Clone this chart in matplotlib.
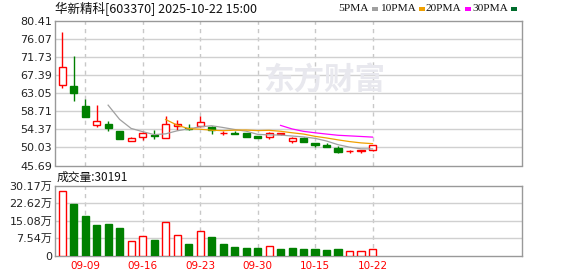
import matplotlib
matplotlib.use("Agg")
import matplotlib.pyplot as plt
from matplotlib.patches import Rectangle
import numpy as np
import pandas as pd

plt.rcParams['font.family'] = ['DejaVu Sans', 'Noto Sans CJK SC']

# ---------------- data ----------------
dates = ["09-05", "09-08", "09-09", "09-10", "09-11", "09-12", "09-15", "09-16",
         "09-17", "09-18", "09-19", "09-22", "09-23", "09-24", "09-25", "09-26",
         "09-29", "09-30", "10-09", "10-10", "10-13", "10-14", "10-15", "10-16",
         "10-17", "10-20", "10-21", "10-22"]
opens = [65.15, 64.91, 59.90, 55.50, 55.74, 54.06, 51.65, 52.61, 53.00, 52.37,
         55.26, 54.80, 55.26, 54.85, 53.50, 53.60, 53.45, 52.70, 52.60, 53.30,
         51.65, 52.20, 51.20, 50.60, 50.00, 49.15, 49.25, 49.50]
highs = [77.68, 71.97, 61.60, 60.16, 56.30, 54.06, 52.61, 53.72, 54.13, 57.50,
         56.71, 55.58, 57.50, 55.10, 53.97, 54.00, 53.45, 52.70, 53.65, 53.50,
         52.60, 52.50, 51.20, 51.07, 50.35, 49.50, 49.50, 50.70]
lows = [64.33, 61.12, 57.43, 54.93, 53.89, 52.13, 51.65, 51.80, 51.96, 52.37,
        54.13, 54.30, 55.00, 53.25, 53.10, 53.20, 52.53, 52.28, 52.13, 53.00,
        51.07, 51.30, 50.10, 50.20, 48.65, 48.80, 48.70, 49.15]
closes = [69.25, 63.12, 57.43, 56.38, 54.78, 52.13, 52.28, 53.57, 52.80, 55.70,
          55.76, 54.58, 56.06, 54.10, 53.60, 53.35, 52.55, 52.30, 53.42, 53.40,
          52.20, 51.45, 50.60, 50.20, 49.00, 49.25, 49.40, 50.50]
volumes = [27.9, 22.4, 17.1, 13.2, 13.8, 11.9, 6.2, 8.3, 6.7, 14.5,
           8.9, 5.1, 10.6, 8.0, 5.0, 3.7, 3.4, 3.3, 4.0, 2.8,
           3.3, 2.8, 2.8, 2.4, 2.8, 1.9, 1.9, 3.02]   # 万手
price_ticks = [45.69, 50.03, 54.37, 58.71, 63.05, 67.39, 71.73, 76.07, 80.41]
vol_ticks = [0, 7.54, 15.08, 22.62, 30.17]
vol_tick_labels = ["0", "7.54万", "15.08万", "22.62万", "30.17万"]
date_ticks = ["09-09", "09-16", "09-23", "09-30", "10-15", "10-22"]
ma_periods = [5, 10, 20, 30]
ma_colors = ["#a0a0a0", "#f0a000", "#ff00ff", "#006c2c"]
title = "华新精科[603370] 2025-10-22 15:00"
vol_title = "成交量:30191"

RED = "#ff0000"
GREEN = "#008000"
GRID = "#d0d0d0"
FRAME = "#999999"

W, H = 578, 276
fig = plt.figure(figsize=(W / 100, H / 100), dpi=100)

def axes_px(l, t, r, b):
    return fig.add_axes([l / W, 1 - b / H, (r - l) / W, (b - t) / H])

ax = axes_px(55, 21, 522, 165.5)
axv = axes_px(55, 186, 522, 255.5)

n = len(closes)
x = np.arange(n)
xlim = (-0.62, 40.0)
date_idx = [dates.index(d) for d in date_ticks]

# ------------- watermark -------------
fig.text(324 / W, 1 - 80 / H, "东方财富", fontsize=22, fontweight="bold",
         color="#e8e8ee", family=["Noto Sans CJK SC"], ha="center", va="center", zorder=0)

for a in (ax, axv):
    a.set_xlim(*xlim)
    a.patch.set_alpha(0)
    for s in a.spines.values():
        s.set_color(FRAME)
        s.set_linewidth(1)
    for d in date_idx:
        a.axvline(d, color="#c8c8c8", lw=1, ls=(0, (3, 3)), zorder=1)
    a.tick_params(length=0)

# ------------- price panel -------------
ax.set_ylim(price_ticks[0], price_ticks[-1])
ax.set_yticks(price_ticks)
ax.set_yticklabels([f"{v:.2f}" for v in price_ticks], fontsize=8, color="#222222")
ax.tick_params(axis="y", pad=2)
ax.set_xticks([])
for v in price_ticks[1:-1]:
    ax.axhline(v, color=GRID, lw=1, zorder=1)

bw = 0.62
for i in range(n):
    o, h, l, c = opens[i], highs[i], lows[i], closes[i]
    up = c >= o
    col = RED if up else GREEN
    ax.vlines(x[i], l, h, color=col, lw=1, zorder=3)
    lo, hi = min(o, c), max(o, c)
    ht = max(hi - lo, 0.06)
    if up:
        ax.add_patch(Rectangle((x[i] - bw / 2, lo), bw, ht, facecolor="white",
                               edgecolor=col, lw=1, zorder=4))
    else:
        ax.add_patch(Rectangle((x[i] - bw / 2, lo), bw, ht, facecolor=col,
                               edgecolor=col, lw=1, zorder=4))

cs = pd.Series(closes)
for p, colr in zip(ma_periods, ma_colors):
    ma = cs.rolling(p).mean()
    ax.plot(x, ma.values, color=colr, lw=0.9, zorder=5)

# title and legend
fig.text(55 / W, 1 - 8.5 / H, title, fontsize=9, family=["Noto Sans CJK SC", "DejaVu Sans"],
         color="#111111", ha="left", va="center")
leg_x = [338, 380, 426, 472]
for p, colr, lx in zip(ma_periods, ma_colors, leg_x):
    t = fig.text(lx / W, 1 - 8.5 / H, f"{p}PMA", fontsize=8.2, family=["Liberation Serif"],
                 color="#111111", ha="left", va="center")
    fig.canvas.draw()
    bb = t.get_window_extent()
    fig.add_artist(Rectangle(((bb.x1 + 3) / W, (H - 10.5) / H), 6 / W, 4 / H,
                             transform=fig.transFigure, facecolor=colr, edgecolor="none"))

# ------------- volume panel -------------
axv.set_ylim(0, vol_ticks[-1])
axv.set_yticks(vol_ticks)
axv.set_yticklabels(vol_tick_labels, fontsize=8, color="#222222")
axv.tick_params(axis="y", pad=2)
for v in vol_ticks[1:-1]:
    axv.axhline(v, color=GRID, lw=1, zorder=1)
for i in range(n):
    up = True if i == 0 else closes[i] > closes[i - 1]
    if up:
        axv.add_patch(Rectangle((x[i] - bw / 2, 0), bw, volumes[i], facecolor="white",
                                edgecolor=RED, lw=1, zorder=3))
    else:
        axv.add_patch(Rectangle((x[i] - bw / 2, 0), bw, volumes[i], facecolor=GREEN,
                                edgecolor=GREEN, lw=1, zorder=3))
axv.set_xticks(date_idx)
axv.set_xticklabels(date_ticks, fontsize=7.5, color=RED)
axv.tick_params(axis="x", pad=4)

fig.text(57 / W, 1 - 177.5 / H, vol_title, fontsize=8.5, family=["Noto Sans CJK SC", "DejaVu Sans"],
         color="#111111", ha="left", va="center")

fig.savefig("out.png", dpi=100)
